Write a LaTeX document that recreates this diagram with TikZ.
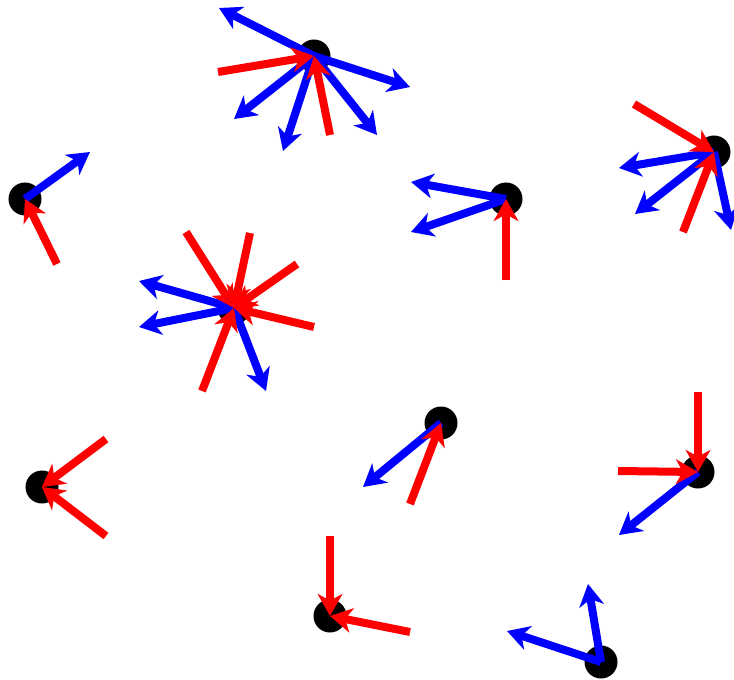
\documentclass[tikz,border=0pt]{standalone}
\usetikzlibrary{arrows.meta}

\begin{document}
\begin{tikzpicture}[x=0.03cm, y=-0.03cm,
  dot/.style={circle, fill=black, inner sep=0pt, minimum size=0.99cm},
  outarrow/.style={blue, line width=0.24cm, -{Stealth[length=0.66cm, width=0.74cm, inset=0.2cm]}},
  inarrow/.style={red, line width=0.24cm, -{Stealth[length=0.66cm, width=0.74cm, inset=0.2cm]}}]

\useasboundingbox (0,0) rectangle (734,680);

% Points
\node[dot] (top)        at (314,56)  {};
\node[dot] (left)       at (25,199)  {};
\node[dot] (midright)   at (506,199) {};
\node[dot] (farright)   at (714,152) {};
\node[dot] (hub)        at (234,308) {};
\node[dot] (lower)      at (441,423) {};
\node[dot] (bottomleft) at (42,487)  {};
\node[dot] (lowerright) at (698,472) {};
\node[dot] (bottom)     at (330,616) {};
\node[dot] (corner)     at (601,662) {};

% Outgoing arrows (blue)
\foreach \d/\x/\y [count=\i] in {top/219/8, top/410/87, top/234/119, top/283/151, top/377/135,
    left/90/152, midright/411/182, midright/411/232,
    farright/619/168, farright/635/214, farright/731/230,
    hub/139/281, hub/139/327, hub/266/391,
    lower/363/487, lowerright/619/535,
    corner/588/584, corner/507/631} {
  \coordinate (b\i) at (\x,\y);
  \draw[outarrow] (\d.center) -- (b\i);
}

% Incoming arrows (red)
\foreach \d/\x/\y [count=\i] in {top/218/72, top/330/135,
    left/57/264, midright/506/280,
    farright/634/104, farright/683/232,
    hub/186/232, hub/250/233, hub/297/264, hub/314/327, hub/202/391,
    lower/410/504, bottomleft/106/439, bottomleft/106/536,
    lowerright/698/392, lowerright/618/471,
    bottom/330/536, bottom/410/632} {
  \coordinate (r\i) at (\x,\y);
  \draw[inarrow] (r\i) -- (\d.center);
}

\end{tikzpicture}
\end{document}
